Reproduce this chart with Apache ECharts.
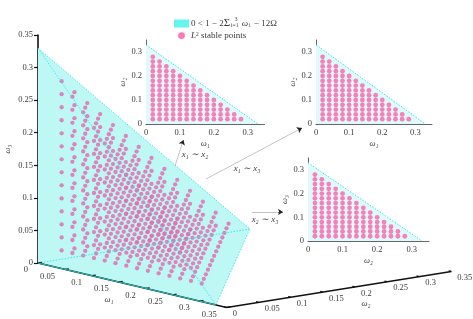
<!DOCTYPE html>
<html><head><meta charset="utf-8">
<style>html,body{margin:0;padding:0;background:#fff}#c{width:473px;height:319px}</style>
<script src="https://cdn.jsdelivr.net/npm/echarts@6/dist/echarts.min.js"></script>
</head><body><div id="c"></div>
<script>
// ---------- data ----------
const latticeValues = [0.02,0.04,0.06,0.08,0.10,0.12,0.14,0.16,0.18,0.20,0.22,0.24,0.26,0.28];
// highest stable w3 for each (w1 row, w2 column) of the 3D lattice
const w3TopByW1W2 = [
 [0.28,0.26,0.24,0.22,0.20,0.18,0.16,0.14,0.12,0.10,0.08,0.06,0.04,0.02],
 [0.26,0.24,0.22,0.20,0.18,0.16,0.14,0.12,0.10,0.08,0.06,0.04,0.02],
 [0.24,0.22,0.20,0.18,0.16,0.14,0.12,0.10,0.08,0.06,0.04,0.02],
 [0.22,0.20,0.18,0.16,0.14,0.12,0.10,0.08,0.06,0.04,0.02],
 [0.20,0.18,0.16,0.14,0.12,0.10,0.08,0.06,0.04,0.02],
 [0.18,0.16,0.14,0.12,0.10,0.08,0.06,0.04,0.02],
 [0.16,0.14,0.12,0.10,0.08,0.06,0.04,0.02],
 [0.14,0.12,0.10,0.08,0.06,0.04,0.02],
 [0.12,0.10,0.08,0.06,0.04,0.02],
 [0.10,0.08,0.06,0.04,0.02],
 [0.08,0.06,0.04,0.02],
 [0.06,0.04,0.02],
 [0.04,0.02],
 [0.02]
];
const inset12Tops = [0.28,0.26,0.24,0.22,0.20,0.18,0.16,0.14,0.12,0.10,0.08,0.06,0.04,0.02];
const inset13Tops = [0.28,0.26,0.24,0.22,0.20,0.18,0.16,0.14,0.12,0.10,0.08,0.06,0.04,0.02];
const inset23Tops = [0.28,0.26,0.24,0.22,0.20,0.18,0.16,0.14,0.12,0.10,0.08,0.06,0.04,0.02];
const regionEdge = [[0,0.33],[0.33,0]];
const regionVertices = {O:[0,0,0],A:[0.33,0,0],B:[0,0.33,0],C:[0,0,0.33]};
const axisTicks3D = [0,0.05,0.1,0.15,0.2,0.25,0.3,0.35];
const insetTicks = [0,0.1,0.2,0.3];
const regionName = 'stable region';
const pointsName = 'stable points';

// ---------- 3D view (screen position of a lattice coordinate) ----------
const view = {ox:38, oy:263, x1:539, y1:127, x2:642, y2:-103, y3:-651};
const project = (a,b,c) => [view.ox+a*view.x1+b*view.x2, view.oy+a*view.y1+b*view.y2+c*view.y3];
const points3D = [];
w3TopByW1W2.forEach((row,i)=>row.forEach((top,j)=>{
  latticeValues.forEach(c=>{ if(c<=top+1e-9) points3D.push(project(latticeValues[i],latticeValues[j],c)); });
}));
const columns = tops => { const out=[]; tops.forEach((top,i)=>latticeValues.forEach(v=>{ if(v<=top+1e-9) out.push([latticeValues[i],v]); })); return out; };

// ---------- styles ----------
const font = 'Liberation Serif';
const txt = '#3a3a3a';
const cyanLine = '#35e6f0';
const faceFill = '#bdf8f4';
const insetFill = '#dffafa';
const mainPink = '#e270b0';
const insetPink = '#fb62aa';

const series = [];
const V = regionVertices;
const P = k => project(...V[k]);

// filled silhouette of the region
series.push({type:'custom', name:regionName, xAxisIndex:0, yAxisIndex:0, silent:true, z:1,
  itemStyle:{color:'#66f4ee'}, data:[[0,0]],
  renderItem:(p,api)=>({type:'polygon', shape:{points:['O','C','B','A'].map(k=>api.coord(P(k)))}, style:{fill:faceFill}})
});
// the stable lattice
series.push({type:'scatter', name:pointsName, xAxisIndex:0, yAxisIndex:0, z:3, silent:true,
  symbol:'circle', symbolSize:4.3, itemStyle:{color:mainPink,opacity:0.85}, data:points3D, animation:false, large:false});
// region edges
const lineS = (data,color,width,type,z)=>({type:'line', xAxisIndex:0, yAxisIndex:0, data, symbol:'none', silent:true, z:z,
  lineStyle:{color,width,type:type||'solid'}, animation:false});
[['C','B'],['C','A'],['A','B'],['O','B']].forEach(e=>series.push(lineS(e.map(P),cyanLine,0.9,[1.5,1.5],4)));
// slanted axes
series.push(lineS([project(0,0,0),project(0.35,0,0)],'#111',1.5,null,5));
series.push(lineS([project(0,0,0),P('A')],'#25c8c8',1,null,6));
series.push(lineS([project(0.35,0,0),project(0.35,0.35,0)],'#111',1.5,null,5));
axisTicks3D.forEach(t=>{
  series.push(lineS([project(t,0,0),project(t,0.006,0)],'#111',1.2,null,5));
  series.push(lineS([project(0.35,t,0),project(0.345,t,0)],'#111',1.2,null,5));
});
// slanted axis tick labels and names
const textItem = (x,y,text,align,extra)=>({type:'text', x, y, style:Object.assign({text, fill:txt, font:'8.5px "'+font+'"', align:align||'center', verticalAlign:'middle'},extra||{})});
series.push({type:'custom', xAxisIndex:0, yAxisIndex:0, silent:true, z:7, data:axisTicks3D.map(t=>[t,0]),
  renderItem:(p,api)=>{ const t=api.value(0), c=api.coord(project(t,0,0)); return textItem(c[0]-10,c[1]+7,String(t),'right'); }});
series.push({type:'custom', xAxisIndex:0, yAxisIndex:0, silent:true, z:7, data:axisTicks3D.map(t=>[t,0]),
  renderItem:(p,api)=>{ const t=api.value(0), c=api.coord(project(0.35,t,0)); return textItem(c[0]+6,c[1]+6.5,String(t),'left'); }});
// free annotation texts
const annotations = [
  {at:[109,300], text:'ω₁', style:{font:'italic 8.5px "'+font+'"'}},
  {at:[366,304], text:'ω₂', style:{font:'italic 8.5px "'+font+'"'}},
  {at:[195,155], text:'x₁ ∼ x₂', style:{font:'italic 9px "'+font+'"'}},
  {at:[247,169], text:'x₁ ∼ x₃', style:{font:'italic 9px "'+font+'"'}},
  {at:[265,220], text:'x₂ ∼ x₃', style:{font:'italic 9px "'+font+'"'}},
  {at:[236,20], text:'3', style:{font:'5.5px "'+font+'"'}}
];
series.push({type:'custom', xAxisIndex:0, yAxisIndex:0, silent:true, z:7, data:annotations.map((a,i)=>[i,0]),
  renderItem:(p,api)=>{ const a=annotations[api.value(0)], c=api.coord(a.at); return textItem(c[0],c[1],a.text,'center',a.style); }});
// arrows: pale shafts with small dark heads
series.push({type:'line', xAxisIndex:0, yAxisIndex:0, data:[], silent:true, symbol:'none', z:6,
  markLine:{silent:true, animation:false, symbol:['none','none'], label:{show:false},
    lineStyle:{color:'#aaa',width:0.7,type:'solid'},
    data:[
      [{coord:[175,166]},{coord:[183,141]}],
      [{coord:[206,179]},{coord:[300,129]}],
      [{coord:[252,212]},{coord:[280,212]}]
    ]}});
series.push({type:'line', xAxisIndex:0, yAxisIndex:0, data:[], silent:true, symbol:'none', z:6,
  markLine:{silent:true, animation:false, symbol:['none','arrow'], symbolSize:5, label:{show:false},
    lineStyle:{color:'#222',width:0.5,type:'solid'},
    data:[
      [{coord:[182,144]},{coord:[183.5,140]}],
      [{coord:[298,130]},{coord:[302,128]}],
      [{coord:[278,212]},{coord:[283,212]}]
    ]}});

// insets
const insets = [
  {grid:{left:146,top:40,width:118.7,height:84}, xn:'ω₁', yn:'ω₂', tops:inset12Tops},
  {grid:{left:316,top:40,width:116,height:84},   xn:'ω₁', yn:'ω₂', tops:inset13Tops},
  {grid:{left:308,top:158,width:121,height:83},  xn:'ω₂', yn:'ω₃', tops:inset23Tops}
];
const grids = [{left:0,top:0,width:473,height:319,show:false},{left:38,top:35,width:2,height:228,show:false}];
const xAxes = [{type:'value',min:0,max:473,show:false},{type:'value',min:0,max:1,show:false,gridIndex:1}];
const yAxes = [{type:'value',min:0,max:319,inverse:true,show:false},
  {type:'value',min:0,max:0.35,interval:0.05,gridIndex:1,name:'ω₃',nameLocation:'middle',nameGap:26,nameRotate:90,
   nameTextStyle:{fontFamily:font,fontStyle:'italic',fontSize:8.5,color:txt},
   axisLine:{show:true,lineStyle:{color:'#111',width:1.6}},axisTick:{show:true,length:4,lineStyle:{color:'#111',width:1.2}},
   axisLabel:{show:true,fontFamily:font,fontSize:8.5,color:txt,margin:5},splitLine:{show:false}}];
const insetAxis = (name,gi,rot)=>({type:'value',min:0,max:0.35,gridIndex:gi,name,nameLocation:'middle',nameGap:rot?15.5:15,nameRotate:rot?90:0,
   nameTextStyle:{fontFamily:font,fontStyle:'italic',fontSize:8.5,color:txt},
   axisLine:{show:true,onZero:false,lineStyle:{color:'#555',width:0.9}},
   axisTick:{show:true,inside:true,length:2,customValues:insetTicks,lineStyle:{color:'#555',width:0.7}},
   axisLabel:{show:true,customValues:insetTicks,fontFamily:font,fontSize:8.5,color:txt,margin:4},splitLine:{show:false}});
insets.forEach((ins,k)=>{
  const gi=k+2;
  grids.push(Object.assign({show:false},ins.grid));
  xAxes.push(insetAxis(ins.xn,gi,false));
  yAxes.push(insetAxis(ins.yn,gi,true));
  series.push({type:'line',xAxisIndex:gi,yAxisIndex:gi,data:regionEdge,symbol:'none',silent:true,z:2,animation:false,
    lineStyle:{color:cyanLine,width:1,type:[1.5,1.5]},areaStyle:{color:insetFill,opacity:1}});
  series.push({type:'scatter',xAxisIndex:gi,yAxisIndex:gi,data:columns(ins.tops),symbol:'circle',symbolSize:4.8,silent:true,z:3,animation:false,
    itemStyle:{color:insetPink}});
});

const chart = echarts.init(document.getElementById('c'),null,{renderer:'canvas'});
chart.setOption({
  animation:false, backgroundColor:'#fff', textStyle:{fontFamily:font},
  grid:grids, xAxis:xAxes, yAxis:yAxes, series,
  legend:{left:174,top:18,orient:'vertical',itemWidth:15,itemHeight:8,itemGap:2,selectedMode:false,padding:0,
    align:'left',
    data:[{name:regionName,icon:'rect',itemStyle:{color:'#66f4ee'}},
          {name:pointsName,icon:'circle',itemStyle:{color:insetPink,borderColor:'#fff',borderWidth:1.2}}],
    formatter:n=> n===regionName
      ? '{m|0 < 1 − 2}{s|Σ}{u|i=1}{w| ω}{u|i}{m| − 12Ω}'
      : '{i|L}{u2|2}{m| stable points}',
    textStyle:{fontFamily:font,fontSize:9,color:txt,padding:[0,0,0,-3],
      rich:{m:{fontFamily:font,fontSize:9,color:txt},s:{fontFamily:font,fontSize:11,color:txt},
        u:{fontFamily:font,fontSize:5.5,color:txt,verticalAlign:'bottom',padding:[0,1,0,1]},
        u2:{fontFamily:font,fontSize:5.5,color:txt,verticalAlign:'top'},
        w:{fontFamily:font,fontSize:9,fontStyle:'italic',color:txt},
        i:{fontFamily:font,fontSize:9,fontStyle:'italic',color:txt}}}
  }
});
</script></body></html>
